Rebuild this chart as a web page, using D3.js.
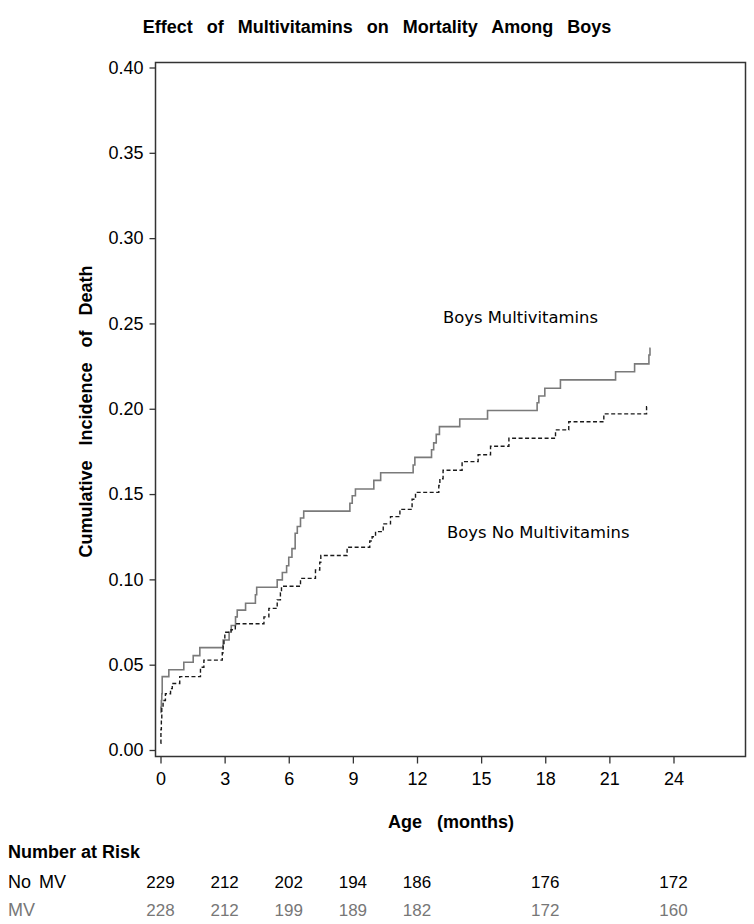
<!DOCTYPE html>
<html>
<head>
<meta charset="utf-8">
<script src="https://cdn.jsdelivr.net/npm/d3@7"></script>
<style>
  html, body { margin: 0; padding: 0; background: #fff; }
  svg { display: block; }
</style>
</head>
<body>
<svg id="chart" width="754" height="924"></svg>
<script>
// ---- Data ----
const title = "Effect of Multivitamins on Mortality Among Boys";
const xTicks = [0, 3, 6, 9, 12, 15, 18, 21, 24];
const yTicks = [0.00, 0.05, 0.10, 0.15, 0.20, 0.25, 0.30, 0.35, 0.40];

// Boys Multivitamins (solid, grey): step times (months) and cumulative incidence
const mvTimes = [0, 0.02, 0.04, 0.06, 0.08, 0.39, 1.09, 1.53, 1.84, 2.93,
  3.21, 3.31, 3.51, 3.59, 3.98, 4.44, 4.5, 5.46, 5.7, 5.9,
  6.0, 6.15, 6.3, 6.4, 6.55, 6.7, 8.86, 8.97, 9.12, 9.98,
  10.3, 11.82, 11.9, 12.68, 12.78, 12.9, 13.05, 14.0, 15.3, 17.62,
  17.7, 17.98, 18.71, 21.29, 22.18, 22.85, 22.9, 22.93];
const mvInc = [0.022, 0.025, 0.029, 0.033, 0.043, 0.047, 0.0514, 0.0553, 0.060, 0.0645,
  0.069, 0.073, 0.078, 0.082, 0.086, 0.091, 0.0954, 0.0997, 0.104, 0.108,
  0.113, 0.118, 0.127, 0.131, 0.136, 0.140, 0.1446, 0.149, 0.153, 0.158,
  0.1625, 0.167, 0.1715, 0.176, 0.180, 0.185, 0.1895, 0.194, 0.199, 0.2035,
  0.2075, 0.212, 0.2169, 0.2217, 0.2263, 0.2315, 0.2355, 0.2355];

// Boys No Multivitamins (dashed, black)
const noTimes = [0, 0.02, 0.04, 0.06, 0.12, 0.23, 0.47, 0.55, 0.9,
  1.87, 2.03, 2.89, 2.93, 2.97, 3.01, 3.3, 3.5,
  4.84, 5.07, 5.46, 5.61, 5.66,
  6.55, 7.25, 7.45, 7.5, 8.73,
  9.79, 9.9, 10.06, 10.42, 10.76, 11.2, 11.77, 11.93,
  13.02, 13.07, 13.22, 14.11,
  14.86, 15.44, 16.3, 18.48, 19.1, 20.74, 22.74, 22.8];
const noInc = [0.004, 0.012, 0.018, 0.025, 0.029, 0.033, 0.036, 0.039, 0.043,
  0.0485, 0.0527, 0.057, 0.061, 0.065, 0.069, 0.0705, 0.074,
  0.078, 0.083, 0.088, 0.092, 0.096,
  0.1006, 0.1055, 0.110, 0.114, 0.1188,
  0.1225, 0.125, 0.128, 0.1325, 0.1368, 0.141, 0.147, 0.151,
  0.155, 0.159, 0.164, 0.169,
  0.173, 0.178, 0.1827, 0.1876, 0.1924, 0.197, 0.2012, 0.2012];

// Number at risk table
const riskTimes = [0, 3, 6, 9, 12, 18, 24];
const riskNoMV = [229, 212, 202, 194, 186, 176, 172];
const riskMV = [228, 212, 199, 189, 182, 172, 160];
const riskGroups = ["No MV", "MV"];

// ---- Layout ----
const svg = d3.select("#chart");
const frame = { left: 155.5, right: 745.5, top: 62.5, bottom: 756.5 };
const x = d3.scaleLinear().domain([0, 24]).range([160.5, 673.5]);
const y = d3.scaleLinear().domain([0, 0.4]).range([750, 67.5]);

const sans = "'Liberation Sans', Arial, Helvetica, sans-serif";
const verd = "'DejaVu Sans', Verdana, sans-serif";

svg.append("rect").attr("width", 754).attr("height", 924).attr("fill", "#fff");

// Title
svg.append("text")
  .attr("x", 377).attr("y", 33)
  .attr("text-anchor", "middle")
  .attr("font-family", sans).attr("font-weight", "bold").attr("font-size", 18)
  .style("word-spacing", "9px")
  .text(title);

// Frame
svg.append("rect")
  .attr("x", frame.left).attr("y", frame.top)
  .attr("width", frame.right - frame.left).attr("height", frame.bottom - frame.top)
  .attr("fill", "none").attr("stroke", "#333").attr("stroke-width", 1.5);

// Y axis
const yAxis = d3.axisLeft(y).tickValues(yTicks).tickFormat(d3.format(".2f")).tickSize(6).tickPadding(6);
const gy = svg.append("g").attr("transform", `translate(${frame.left},0)`).call(yAxis);
gy.select(".domain").remove();
gy.selectAll(".tick line").attr("stroke", "#333").attr("stroke-width", 1.3);
gy.selectAll(".tick text").attr("font-family", sans).attr("font-size", 18).attr("fill", "#000");

// X axis
const xAxis = d3.axisBottom(x).tickValues(xTicks).tickSize(7).tickPadding(9);
const gx = svg.append("g").attr("transform", `translate(0,${frame.bottom})`).call(xAxis);
gx.select(".domain").remove();
gx.selectAll(".tick line").attr("stroke", "#333").attr("stroke-width", 1.3);
gx.selectAll(".tick text").attr("font-family", sans).attr("font-size", 18).attr("fill", "#000");

// Axis labels
svg.append("text")
  .attr("transform", `translate(92,${(frame.top + frame.bottom) / 2 + 2}) rotate(-90)`)
  .attr("text-anchor", "middle")
  .attr("font-family", sans).attr("font-weight", "bold").attr("font-size", 18)
  .style("word-spacing", "10px")
  .text("Cumulative Incidence of Death");

svg.append("text")
  .attr("x", 451).attr("y", 828)
  .attr("text-anchor", "middle")
  .attr("font-family", sans).attr("font-weight", "bold").attr("font-size", 18)
  .style("word-spacing", "10px")
  .text("Age (months)");

// Curves
const line = d3.line().x(d => x(d[0])).y(d => y(d[1])).curve(d3.curveStepAfter);
const mvData = mvTimes.map((t, i) => [t, mvInc[i]]);
const noData = noTimes.map((t, i) => [t, noInc[i]]);

svg.append("path").datum(mvData).attr("d", line)
  .attr("fill", "none").attr("stroke", "#7a7a7a").attr("stroke-width", 1.6);
svg.append("path").datum(noData).attr("d", line)
  .attr("fill", "none").attr("stroke", "#1a1a1a").attr("stroke-width", 1.4)
  .attr("stroke-dasharray", "4,2.5");

// Curve labels
svg.append("text").attr("x", 443).attr("y", 323)
  .attr("font-family", verd).attr("font-size", 16.4).attr("fill", "#000")
  .text("Boys Multivitamins");
svg.append("text").attr("x", 447).attr("y", 538)
  .attr("font-family", verd).attr("font-size", 16.4).attr("fill", "#000")
  .text("Boys No Multivitamins");

// Number at risk table
svg.append("text").attr("x", 8).attr("y", 858)
  .attr("font-family", sans).attr("font-weight", "bold").attr("font-size", 18)
  .text("Number at Risk");

const rows = [
  { name: riskGroups[0], vals: riskNoMV, color: "#000", yy: 888 },
  { name: riskGroups[1], vals: riskMV, color: "#777", yy: 916 }
];
rows.forEach(r => {
  svg.append("text").attr("x", 8).attr("y", r.yy)
    .attr("font-family", sans).attr("font-size", 18).attr("fill", r.color)
    .style("word-spacing", "3px")
    .text(r.name);
  svg.append("g").selectAll("text").data(riskTimes).join("text")
    .attr("x", d => x(d)).attr("y", r.yy)
    .attr("text-anchor", "middle")
    .attr("font-family", sans).attr("font-size", 17).attr("fill", r.color)
    .text((d, i) => r.vals[i]);
});
</script>
</body>
</html>
